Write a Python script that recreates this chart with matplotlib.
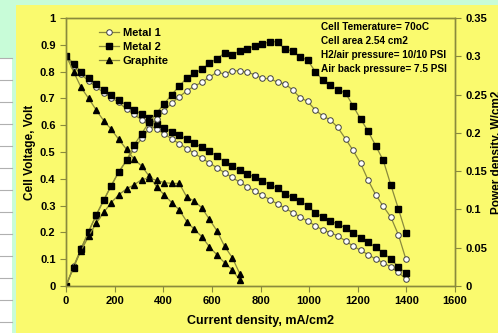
import matplotlib
matplotlib.use('Agg')
import matplotlib.pyplot as plt
from matplotlib.patches import Rectangle
from matplotlib.lines import Line2D

plt.rcParams['font.family'] = ['Liberation Sans', 'DejaVu Sans']
plt.rcParams['font.weight'] = 'bold'

# current density, mA/cm2
current = [0, 31, 62, 93, 124, 155, 186, 217, 249, 280, 311, 342, 373, 404, 435, 466,
           497, 528, 559, 590, 621, 652, 684, 715, 746, 777, 808, 839, 870, 901, 932,
           963, 994, 1025, 1056, 1087, 1118, 1150, 1181, 1212, 1243, 1274, 1305, 1336,
           1367, 1398]
current_graphite = current[:24]

# cell voltage, Volt
v_metal1 = [0.86, 0.82, 0.79, 0.765, 0.742, 0.722, 0.703, 0.685, 0.66, 0.64, 0.62, 0.60,
            0.585, 0.567, 0.549, 0.531, 0.513, 0.495, 0.477, 0.459, 0.441, 0.423, 0.405,
            0.387, 0.370, 0.354, 0.338, 0.322, 0.306, 0.290, 0.274, 0.258, 0.242, 0.225,
            0.209, 0.199, 0.187, 0.168, 0.149, 0.133, 0.117, 0.100, 0.087, 0.071, 0.051,
            0.026]
v_metal2 = [0.86, 0.83, 0.80, 0.775, 0.752, 0.732, 0.712, 0.693, 0.675, 0.658, 0.641,
            0.626, 0.605, 0.59, 0.576, 0.562, 0.547, 0.532, 0.517, 0.502, 0.485, 0.464,
            0.447, 0.431, 0.418, 0.406, 0.393, 0.377, 0.365, 0.343, 0.331, 0.318, 0.298,
            0.274, 0.257, 0.244, 0.230, 0.218, 0.199, 0.180, 0.163, 0.144, 0.124, 0.100,
            0.072, 0.047]
v_graphite = [0.86, 0.80, 0.741, 0.70, 0.657, 0.617, 0.585, 0.547, 0.51, 0.473, 0.448,
              0.41, 0.37, 0.34, 0.311, 0.284, 0.24, 0.211, 0.184, 0.146, 0.116, 0.087,
              0.06, 0.022]

# power density, W/cm2
p_metal1 = [0, 0.0255, 0.049, 0.071, 0.092, 0.112, 0.131, 0.149, 0.164, 0.179, 0.193,
            0.205, 0.218, 0.229, 0.239, 0.247, 0.255, 0.261, 0.266, 0.273, 0.279, 0.277,
            0.281, 0.281, 0.279, 0.276, 0.271, 0.271, 0.266, 0.264, 0.256, 0.246, 0.241,
            0.230, 0.222, 0.217, 0.207, 0.192, 0.177, 0.160, 0.138, 0.119, 0.104, 0.090,
            0.067, 0.035]
p_metal2 = [0, 0.024, 0.048, 0.071, 0.093, 0.112, 0.131, 0.149, 0.164, 0.184, 0.199,
            0.214, 0.226, 0.238, 0.25, 0.261, 0.272, 0.278, 0.283, 0.291, 0.297, 0.304,
            0.302, 0.307, 0.31, 0.314, 0.316, 0.319, 0.319, 0.309, 0.307, 0.299, 0.295,
            0.28, 0.269, 0.262, 0.256, 0.252, 0.235, 0.218, 0.202, 0.183, 0.164, 0.132,
            0.101, 0.069]
p_graphite = [0, 0.025, 0.046, 0.065, 0.082, 0.096, 0.109, 0.119, 0.127, 0.132, 0.139,
              0.141, 0.138, 0.135, 0.134, 0.134, 0.116, 0.111, 0.102, 0.087, 0.072,
              0.052, 0.037, 0.016]

conditions = ['Cell Temerature= 70oC', 'Cell area 2.54 cm2',
              'H2/air pressure= 10/10 PSI', 'Air back pressure= 7.5 PSI']

mint = '#c8fcd8'
yellow = '#fafa6e'
olive = '#8a8a3c'

fig = plt.figure(figsize=(4.98, 3.33), dpi=100, facecolor=mint)

# background: spreadsheet strip on the left, yellow chart panel
fig.patches.append(Rectangle((0, 0), 12 / 498, 275 / 333, transform=fig.transFigure,
                             facecolor='white', edgecolor='none', zorder=-10))
for ypx in range(58, 333, 22):
    fig.lines.append(Line2D([0, 12 / 498], [1 - ypx / 333] * 2, transform=fig.transFigure,
                            color='#b0b0b0', lw=0.8, zorder=-9))
fig.patches.append(Rectangle((16 / 498, 0), 1, 328 / 333, transform=fig.transFigure,
                             facecolor=yellow, edgecolor='none', zorder=-10))

ax = fig.add_axes([66 / 498, 1 - 286 / 333, 389 / 498, 268 / 333])
ax.set_facecolor('none')
ax2 = ax.twinx()

line_kw = dict(color=olive, lw=0.9)
l1, = ax.plot(current, v_metal1, marker='o', ms=4.0, mfc='white', mec='#404040',
              mew=0.7, label='Metal 1', **line_kw)
l2, = ax.plot(current, v_metal2, marker='s', ms=4.5, mfc='black', mec='black',
              label='Metal 2', **line_kw)
l3, = ax.plot(current_graphite, v_graphite, marker='^', ms=4.5, mfc='black', mec='black',
              label='Graphite', **line_kw)

ax2.plot(current, p_metal1, marker='o', ms=4.0, mfc='white', mec='#404040', mew=0.7, **line_kw)
ax2.plot(current, p_metal2, marker='s', ms=4.5, mfc='black', mec='black', **line_kw)
ax2.plot(current_graphite, p_graphite, marker='^', ms=4.5, mfc='black', mec='black', **line_kw)

ax.set_xlim(0, 1600)
ax.set_ylim(0, 1)
ax2.set_ylim(0, 0.35)
ax.set_xticks(range(0, 1601, 200))
ax.set_yticks([i / 10 for i in range(11)])
ax.set_yticklabels(['0', '0.1', '0.2', '0.3', '0.4', '0.5', '0.6', '0.7', '0.8', '0.9', '1'])
ax2.set_yticks([i * 0.05 for i in range(8)])
ax2.set_yticklabels(['0', '0.05', '0.1', '0.15', '0.2', '0.25', '0.3', '0.35'])

for a in (ax, ax2):
    for s in a.spines.values():
        s.set_color(olive)
        s.set_linewidth(1.0)
    a.tick_params(colors=olive, labelcolor='black', labelsize=8, length=4, width=0.8)

ax.set_xlabel('Current density, mA/cm2', fontsize=9, fontweight='bold', labelpad=6)
ax.set_ylabel('Cell Voltage, Volt', fontsize=8.5, fontweight='bold', labelpad=3)
ax2.set_ylabel('Power density, W/cm2', fontsize=8.5, fontweight='bold', labelpad=3)

leg = ax.legend(handles=[l1, l2, l3], loc='upper left', bbox_to_anchor=(0.06, 1.0),
                frameon=False, handlelength=1.8, handletextpad=0.3, labelspacing=0.35,
                prop={'size': 8, 'weight': 'bold'})

for i, txt in enumerate(conditions):
    ax.text(0.655, 0.965 - i * 0.052, txt, transform=ax.transAxes, fontsize=7.2,
            fontweight='bold', va='center', ha='left')

fig.savefig('out.png', dpi=100, facecolor=mint)
